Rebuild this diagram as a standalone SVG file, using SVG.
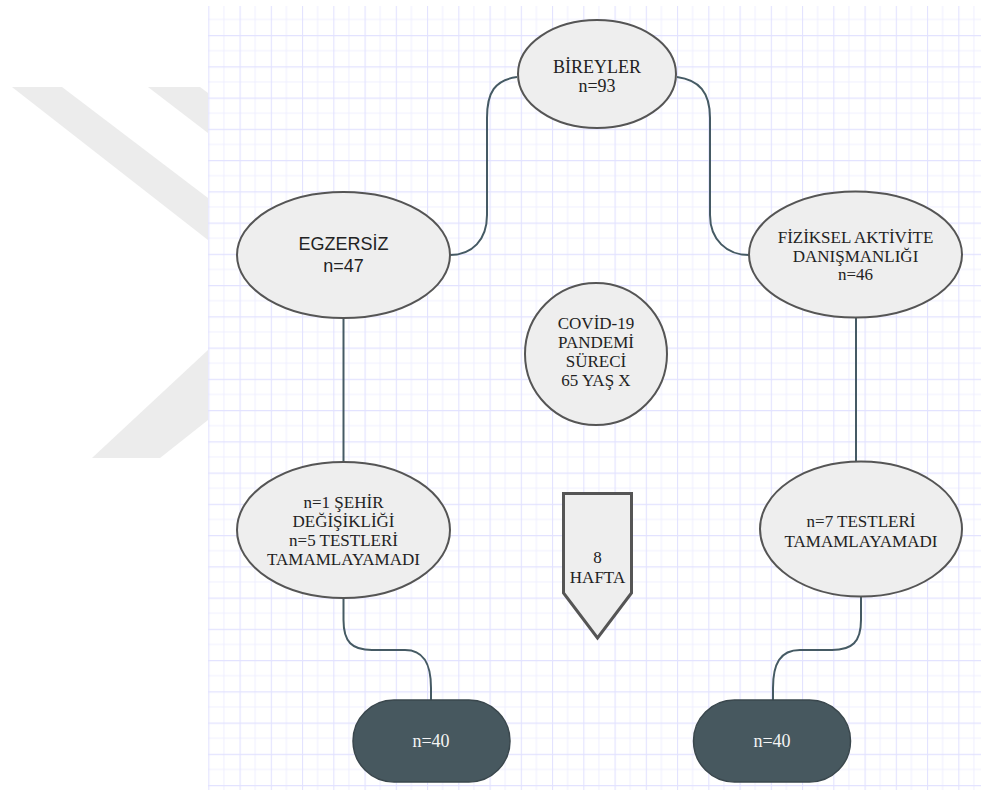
<svg xmlns="http://www.w3.org/2000/svg" width="981" height="790" viewBox="0 0 981 790">
<defs>
<pattern id="grid" x="208.3" y="3.8" width="31.25" height="31.25" patternUnits="userSpaceOnUse">
<path d="M15.6,0 V31.25 M0,15.6 H31.25" stroke="#efefff" stroke-width="1" fill="none"/>
<path d="M0.5,0 V31.25 M0,0.5 H31.25" stroke="#e2e2ff" stroke-width="1.2" fill="none"/>
</pattern>
<style>
.nd{fill:#eeeeee;stroke:#555555;stroke-width:2}
.pill{fill:#47585f;stroke:#3a474d;stroke-width:1.5}
.tx{font-family:"Liberation Serif","Times New Roman",serif;font-size:17px;fill:#222222;text-anchor:middle}
.sx{font-family:"Liberation Sans",Arial,sans-serif;font-size:18px;fill:#222222;text-anchor:middle}
.wt{font-family:"Liberation Serif","Times New Roman",serif;font-size:18px;fill:#f4f4f4;text-anchor:middle}
.cn{fill:none;stroke:#455a64;stroke-width:2}
</style>
</defs>
<rect width="981" height="790" fill="#ffffff"/>
<g id="watermark" fill="#ececec">
<polygon points="12,87 62,87 208,198 208,240"/>
<polygon points="148,87 200,87 208,93 208,133"/>
<polygon points="92,458 160,458 208,420 208,350"/>
</g>
<rect x="208" y="6" width="773" height="784" fill="#ffffff"/>
<rect x="208" y="6" width="773" height="784" fill="url(#grid)"/>
<g id="connectors">
<path class="cn" d="M517,77 C495,80 487,92 487,118 L487,215 C487,240 472,255 450,255"/>
<path class="cn" d="M677,77 C699,80 710,92 710,118 L710,215 C710,240 727,255 749,255"/>
<path class="cn" d="M343.5,318 L343.5,462"/>
<path class="cn" d="M856,317 L856,462"/>
<path class="cn" d="M343.5,598 L343.5,620 C343.5,642 352,650 372,650 L405,650 C424,650 431,664 431,688 L431,700"/>
<path class="cn" d="M861,597 L861,620 C861,642 852,650 832,650 L800,650 C780,650 773,664 773,688 L773,700"/>
</g>
<g id="bireyler">
<ellipse class="nd" cx="597" cy="74" rx="79" ry="54"/>
<text class="tx" x="597" y="73" style="font-size:18px">BİREYLER</text>
<text class="tx" x="597" y="92" style="font-size:18px">n=93</text>
</g>
<g id="egzersiz">
<ellipse class="nd" cx="343.5" cy="255" rx="106.5" ry="63"/>
<text class="sx" x="343.5" y="250">EGZERSİZ</text>
<text class="sx" x="343.5" y="272">n=47</text>
</g>
<g id="fiziksel">
<ellipse class="nd" cx="855.5" cy="254.5" rx="106.5" ry="63"/>
<text class="tx" x="855.5" y="243">FİZİKSEL AKTİVİTE</text>
<text class="tx" x="855.5" y="261.5">DANIŞMANLIĞI</text>
<text class="tx" x="855.5" y="280">n=46</text>
</g>
<g id="covid">
<circle class="nd" cx="596" cy="354" r="71"/>
<text class="tx" x="596" y="329">COVİD-19</text>
<text class="tx" x="596" y="348">PANDEMİ</text>
<text class="tx" x="596" y="367">SÜRECİ</text>
<text class="tx" x="596" y="386">65 YAŞ X</text>
</g>
<g id="sehir">
<ellipse class="nd" cx="343.5" cy="530" rx="106.5" ry="68"/>
<text class="tx" x="343.5" y="508">n=1 ŞEHİR</text>
<text class="tx" x="343.5" y="527">DEĞİŞİKLİĞİ</text>
<text class="tx" x="343.5" y="546">n=5 TESTLERİ</text>
<text class="tx" x="343.5" y="565">TAMAMLAYAMADI</text>
</g>
<g id="hafta">
<polygon points="563.5,493.5 631.5,493.5 631.5,593 597.5,638 563.5,593" fill="#eeeeee" stroke="#555555" stroke-width="3"/>
<text class="tx" x="597.5" y="563">8</text>
<text class="tx" x="597.5" y="582.5">HAFTA</text>
</g>
<g id="testleri7">
<ellipse class="nd" cx="861" cy="529" rx="101" ry="67.5"/>
<text class="tx" x="861" y="527">n=7 TESTLERİ</text>
<text class="tx" x="861" y="547">TAMAMLAYAMADI</text>
</g>
<g id="n40left">
<rect class="pill" x="353" y="700" width="157" height="82" rx="41" ry="41"/>
<text class="wt" x="431" y="747">n=40</text>
</g>
<g id="n40right">
<rect class="pill" x="693.5" y="700" width="157" height="82" rx="41" ry="41"/>
<text class="wt" x="772" y="747">n=40</text>
</g>
</svg>
